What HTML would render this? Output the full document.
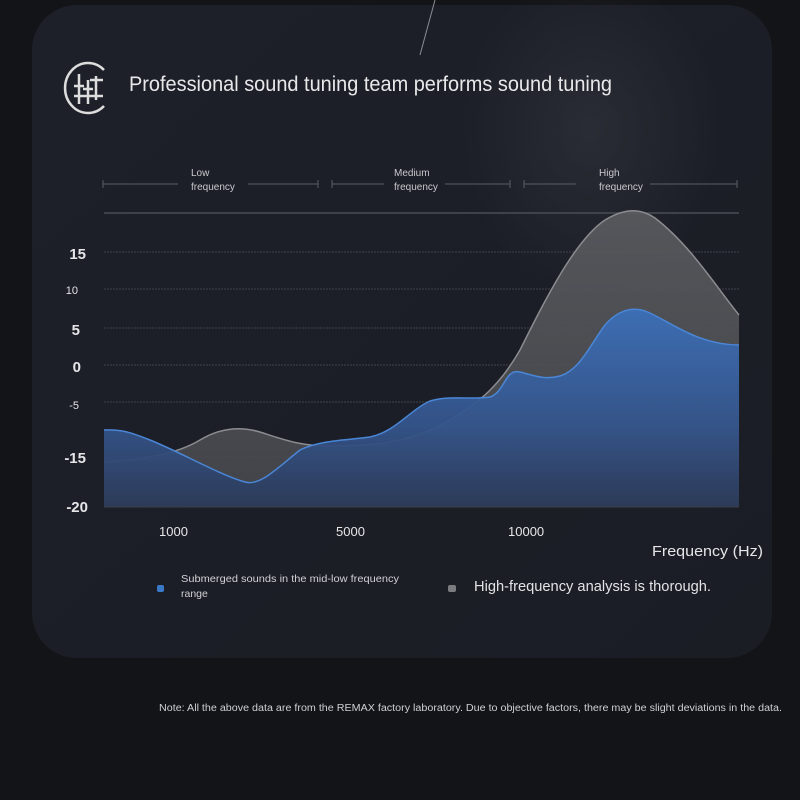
<!DOCTYPE html>
<html><head><meta charset="utf-8"><style>
html,body{margin:0;padding:0;background:#121417;}
svg{display:block}
</style></head><body>
<svg width="800" height="800" viewBox="0 0 800 800" xmlns="http://www.w3.org/2000/svg" font-family="Liberation Sans, sans-serif">
<defs>
<linearGradient id="bg" x1="0" y1="0" x2="1" y2="1">
<stop offset="0" stop-color="#1d2029"/><stop offset="1" stop-color="#1b1d25"/></linearGradient>
<linearGradient id="blue" x1="0" y1="0" x2="0" y2="1">
<stop offset="0" stop-color="#3c6fb8"/><stop offset="0.6" stop-color="#34548a"/><stop offset="1" stop-color="#2b3a58"/></linearGradient>
<linearGradient id="gray" x1="0" y1="0" x2="0" y2="1">
<stop offset="0" stop-color="#5a5c60"/><stop offset="1" stop-color="#45474c"/></linearGradient>
<radialGradient id="glow" cx="0.5" cy="0.5" r="0.5">
<stop offset="0" stop-color="#3a3d44" stop-opacity="0.45"/><stop offset="1" stop-color="#3a3d44" stop-opacity="0"/></radialGradient>
</defs>
<rect width="800" height="800" fill="#121417"/>
<rect x="32" y="5" width="740" height="653" rx="45" fill="url(#bg)"/>
<ellipse cx="590" cy="130" rx="130" ry="160" fill="url(#glow)"/>
<line x1="435" y1="0" x2="420" y2="55" stroke="#8a8d94" stroke-width="1"/>
<!-- icon -->
<path d="M104 70 A23 25 0 1 0 104 106" fill="none" stroke="#ddd" stroke-width="2.5"/>
<g stroke="#ddd" stroke-width="2.5">
<line x1="79" y1="74" x2="79" y2="104"/><line x1="88" y1="80" x2="88" y2="104"/><line x1="96" y1="76" x2="96" y2="100"/>
<line x1="74" y1="86" x2="84" y2="86"/><line x1="83" y1="89" x2="93" y2="89"/><line x1="90" y1="80" x2="103" y2="80"/>
<line x1="74" y1="96" x2="103" y2="96"/>
</g>
<text x="129" y="91" font-size="21" fill="#e8e8ea" textLength="483" lengthAdjust="spacingAndGlyphs">Professional sound tuning team performs sound tuning</text>
<g stroke="#5a5d64" stroke-width="1" fill="none">
<path d="M103 180v8M103 184h75M248 184h70M318 180v8"/>
<path d="M332 180v8M332 184h52M445 184h65M510 180v8"/>
<path d="M524 180v8M524 184h52M650 184h87M737 180v8"/>
</g>
<g font-size="10" fill="#c8c9cc">
<text x="191" y="176">Low</text><text x="191" y="190">frequency</text>
<text x="394" y="176">Medium</text><text x="394" y="190">frequency</text>
<text x="599" y="176">High</text><text x="599" y="190">frequency</text>
</g>
<line x1="104" y1="213" x2="739" y2="213" stroke="#4a4d55" stroke-width="1.5"/>
<g stroke="#3e414a" stroke-width="1" stroke-dasharray="2 1">
<line x1="104" y1="252" x2="739" y2="252"/><line x1="104" y1="289" x2="739" y2="289"/>
<line x1="104" y1="328" x2="739" y2="328"/><line x1="104" y1="365" x2="739" y2="365"/>
<line x1="104" y1="402" x2="739" y2="402"/><line x1="104" y1="457" x2="739" y2="457"/>
</g>
<path d="M104 462 C140 460,175 455,200 440 C220 428,240 426,260 432 C285 440,300 446,330 446 C370 446,410 444,450 420 C480 402,500 385,520 350 C545 300,575 240,605 220 C625 208,640 208,655 218 C690 245,715 285,739 315 L739 507 L104 507Z" fill="url(#gray)" fill-opacity="0.9"/>
<path d="M104 462 C140 460,175 455,200 440 C220 428,240 426,260 432 C285 440,300 446,330 446 C370 446,410 444,450 420 C480 402,500 385,520 350 C545 300,575 240,605 220 C625 208,640 208,655 218 C690 245,715 285,739 315" fill="none" stroke="#8a8c90" stroke-width="1.5"/>
<path d="M104 430 C120 429,130 432,150 440 C180 452,220 475,245 482 C260 486,275 470,300 450 C320 440,350 440,370 437 C395 432,410 410,430 401 C450 395,470 400,490 397 C505 392,505 368,520 372 C535 376,545 380,560 376 C580 370,590 345,605 325 C620 308,635 306,650 313 C675 325,700 345,739 345 L739 507 L104 507Z" fill="url(#blue)" fill-opacity="0.95"/>
<path d="M104 430 C120 429,130 432,150 440 C180 452,220 475,245 482 C260 486,275 470,300 450 C320 440,350 440,370 437 C395 432,410 410,430 401 C450 395,470 400,490 397 C505 392,505 368,520 372 C535 376,545 380,560 376 C580 370,590 345,605 325 C620 308,635 306,650 313 C675 325,700 345,739 345" fill="none" stroke="#4a86d6" stroke-width="1.5"/>
<line x1="104" y1="507" x2="739" y2="507" stroke="#3e414a"/>
<g fill="#e6e6e8" font-weight="bold" text-anchor="end">
<text x="86" y="259" font-size="15">15</text>
<text x="78" y="294" font-size="11" font-weight="normal">10</text>
<text x="80" y="335" font-size="15">5</text>
<text x="81" y="372" font-size="15">0</text>
<text x="79" y="409" font-size="11" font-weight="normal">-5</text>
<text x="86" y="463" font-size="15">-15</text>
<text x="88" y="512" font-size="15">-20</text>
</g>
<g fill="#e6e6e8" font-size="13">
<text x="159" y="536">1000</text><text x="336" y="536">5000</text><text x="508" y="536">10000</text>
<text x="652" y="556" font-size="15" textLength="111" lengthAdjust="spacingAndGlyphs">Frequency (Hz)</text>
</g>
<rect x="157" y="585" width="7" height="7" rx="2" fill="#3a78c8"/>
<text x="181" y="582" font-size="10.5" fill="#d0d1d4" textLength="218" lengthAdjust="spacingAndGlyphs">Submerged sounds in the mid-low frequency</text>
<text x="181" y="597" font-size="10.5" fill="#d0d1d4">range</text>
<rect x="448" y="585" width="8" height="7" rx="2" fill="#7a7c80"/>
<text x="474" y="591" font-size="15" fill="#e2e3e5" textLength="237" lengthAdjust="spacingAndGlyphs">High-frequency analysis is thorough.</text>
<text x="159" y="711" font-size="10" fill="#cfd0d2" textLength="623" lengthAdjust="spacingAndGlyphs">Note: All the above data are from the REMAX factory laboratory. Due to objective factors, there may be slight deviations in the data.</text>
</svg>
</body></html>
